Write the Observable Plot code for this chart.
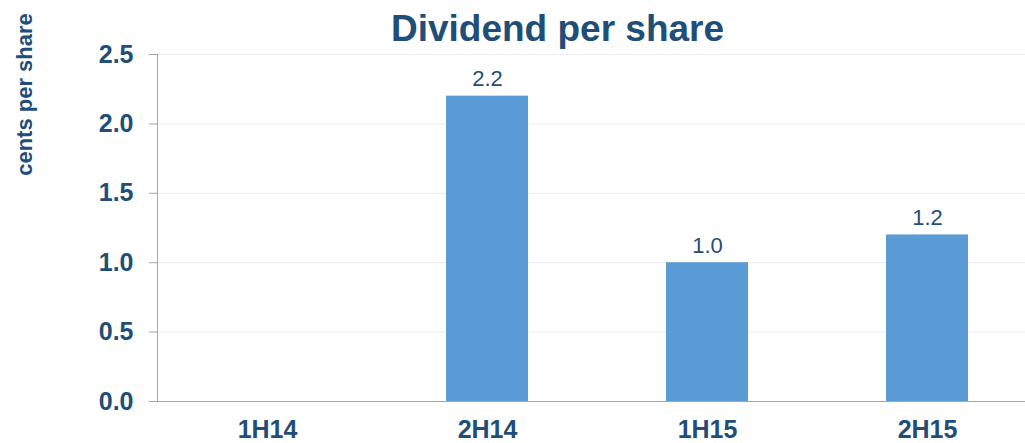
<!DOCTYPE html>
<html>
<head>
<meta charset="utf-8">
<script src="https://cdn.jsdelivr.net/npm/d3@7"></script>
<script src="https://cdn.jsdelivr.net/npm/@observablehq/plot@0.6"></script>
<style>
  html, body { margin: 0; padding: 0; background: #fff; }
  svg { font-family: "Liberation Sans", Arial, sans-serif; }
</style>
</head>
<body>
<div id="chart"></div>
<script>
const categories = ["1H14", "2H14", "1H15", "2H15"];
const values = [null, 2.2, 1.0, 1.2];
const valueLabels = ["", "2.2", "1.0", "1.2"];
const yTicks = [0, 0.5, 1.0, 1.5, 2.0, 2.5];
const title = "Dividend per share";
const yLabel = "cents per share";

const data = categories.map((c, i) => ({cat: c, v: values[i], label: valueLabels[i]}));
const bars = data.filter(d => d.v != null);

const navy = "#1F4E79";
const font = "Liberation Sans, Arial, sans-serif";

const chart = Plot.plot({
  width: 1025,
  height: 443,
  marginLeft: 157,
  marginRight: -12,
  marginTop: 54,
  marginBottom: 42,
  style: {fontFamily: font, background: "#fff", overflow: "visible"},
  x: {domain: categories, paddingInner: 0.627, paddingOuter: 0.3135},
  y: {domain: [0, 2.5]},
  marks: [
    Plot.gridY(yTicks, {stroke: "#EBEBEB", strokeOpacity: 1}),
    Plot.barY(bars, {x: "cat", y: "v", fill: "#5B9BD5"}),
    Plot.text(bars, {x: "cat", y: "v", text: "label", fill: navy, fontSize: 22, lineAnchor: "bottom", dy: -10}),
    Plot.axisY({ticks: yTicks, tickFormat: d3.format(".1f"), tickSize: 8, tickPadding: 16, stroke: "#A6A6A6",
      fill: navy, fontSize: 25, fontWeight: "bold", label: null}),
    Plot.axisX({tickSize: 0, tickPadding: 19, fill: navy, fontSize: 25, fontWeight: "bold", label: null}),
    Plot.frame({anchor: "left", stroke: "#A6A6A6"}),
    Plot.ruleY([0], {stroke: "#A6A6A6", insetLeft: -8}),
    Plot.text([title], {frameAnchor: "top-left", dx: 400, dy: -25, textAnchor: "middle", lineAnchor: "middle", fill: navy, fontSize: 37, fontWeight: "bold"}),
    Plot.text([yLabel], {frameAnchor: "top-left", dx: -133, dy: 40, rotate: -90, textAnchor: "middle", lineAnchor: "middle", fill: navy, fontSize: 22, fontWeight: "bold"})
  ]
});
document.getElementById("chart").appendChild(chart);
</script>
</body>
</html>
